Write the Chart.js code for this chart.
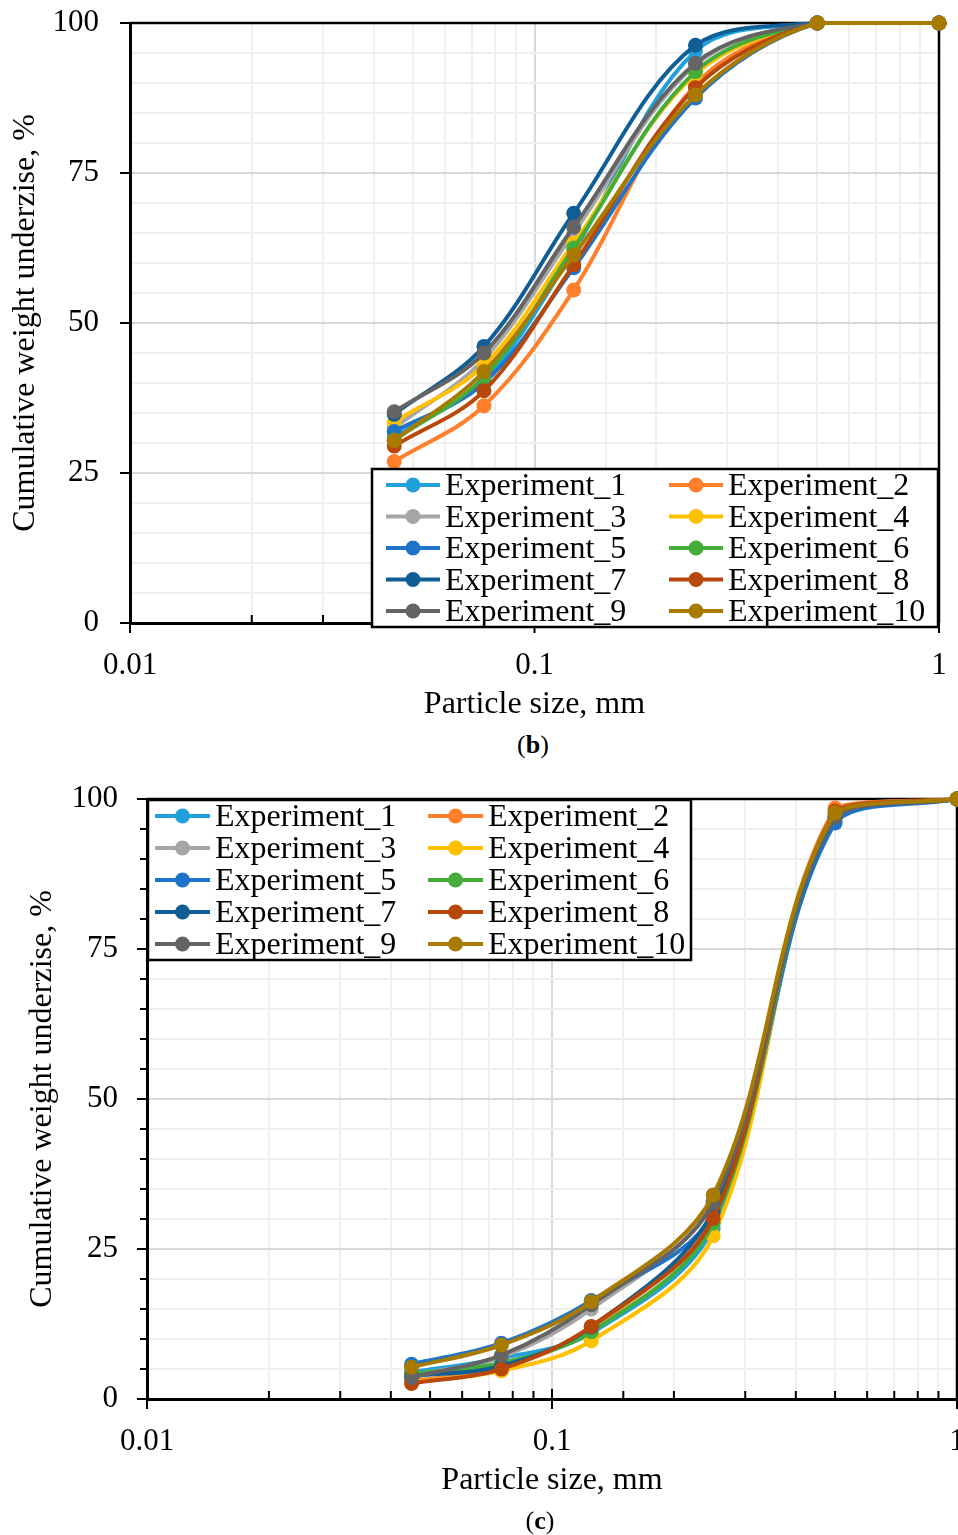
<!DOCTYPE html>
<html>
<head>
<meta charset="utf-8">
<script src="https://cdn.jsdelivr.net/npm/chart.js@4.4.1/dist/chart.umd.min.js"></script>
<style>
  html, body { margin: 0; padding: 0; background: #fff; width: 958px; height: 1535px; overflow: hidden; }
  .wrap { position: absolute; left: 0; width: 958px; overflow: hidden; }
  canvas { display: block; }
  .cap { position: absolute; font-family: "Liberation Serif", serif; font-size: 26px; color: #000;
         transform: translate(-50%, -50%); white-space: nowrap; }
</style>
</head>
<body>
<div class="wrap" style="top:0;height:730px"><canvas id="chartB" width="958" height="730"></canvas></div>
<div class="cap" style="left:533px;top:745px">(<b>b</b>)</div>
<div class="wrap" style="top:770px;height:750px"><canvas id="chartC" width="980" height="750"></canvas></div>
<div class="cap" style="left:540px;top:1521px">(<b>c</b>)</div>

<script>
// Sieve sizes (mm) and axis labels
const sizes = [0.045, 0.075, 0.125, 0.25, 0.5, 1];
const xTickValues = [0.01, 0.1, 1];
const xTickLabels = ['0.01', '0.1', '1'];
const yTickValues = [0, 25, 50, 75, 100];

const seriesNames = ['Experiment_1', 'Experiment_2', 'Experiment_3', 'Experiment_4', 'Experiment_5',
                     'Experiment_6', 'Experiment_7', 'Experiment_8', 'Experiment_9', 'Experiment_10'];
const seriesColors = ['#22a0dc', '#ff7f2a', '#a6a6a6', '#ffc000', '#1f74c8',
                      '#44ad3a', '#0f5f96', '#b8480a', '#646464', '#a87a00'];

// (b) cumulative weight undersize, %
const bExp1  = [31.0, 40.5, 62.0, 95.3, 100, 100];
const bExp2  = [26.9, 36.2, 55.5, 89.7, 100, 100];
const bExp3  = [32.5, 44.0, 65.0, 93.0, 100, 100];
const bExp4  = [33.5, 43.0, 63.3, 91.5, 100, 100];
const bExp5  = [31.9, 40.0, 59.2, 87.5, 100, 100];
const bExp6  = [30.5, 41.0, 62.5, 91.9, 100, 100];
const bExp7  = [34.8, 46.1, 68.3, 96.3, 100, 100];
const bExp8  = [29.5, 38.7, 59.7, 89.2, 100, 100];
const bExp9  = [35.2, 45.0, 66.0, 93.3, 100, 100];
const bExp10 = [30.4, 41.9, 61.3, 88.0, 100, 100];

// (c) cumulative weight undersize, %
const cExp1  = [4.5, 6.8, 11.0, 28.5, 96.5, 100];
const cExp2  = [3.0, 5.2, 11.8, 30.5, 98.5, 100];
const cExp3  = [4.0, 7.0, 15.0, 33.0, 97.0, 100];
const cExp4  = [2.8, 4.7, 9.7, 27.2, 97.5, 100];
const cExp5  = [5.8, 9.3, 16.4, 31.0, 96.0, 100];
const cExp6  = [4.2, 6.0, 11.2, 29.3, 97.5, 100];
const cExp7  = [3.8, 5.5, 12.0, 31.5, 97.0, 100];
const cExp8  = [2.6, 5.0, 12.1, 30.1, 98.0, 100];
const cExp9  = [3.6, 7.3, 15.7, 32.7, 97.0, 100];
const cExp10 = [5.3, 9.0, 16.2, 34.0, 97.7, 100];

const seriesB = [bExp1, bExp2, bExp3, bExp4, bExp5, bExp6, bExp7, bExp8, bExp9, bExp10];
const seriesC = [cExp1, cExp2, cExp3, cExp4, cExp5, cExp6, cExp7, cExp8, cExp9, cExp10];

const FONT = '"Liberation Serif", "Times New Roman", serif';

function isDecade(v) {
    const l = Math.log10(v);
    return Math.abs(l - Math.round(l)) < 1e-6;
}

function xLabel(v) {
    const i = xTickValues.findIndex(t => Math.abs(t - v) / t < 1e-6);
    return i >= 0 ? xTickLabels[i] : '';
}

function buildDatasets(series) {
    return series.map((vals, i) => ({
        label: seriesNames[i],
        data: sizes.map((s, j) => ({ x: s, y: vals[j] })),
        borderColor: seriesColors[i],
        backgroundColor: seriesColors[i],
        pointBackgroundColor: seriesColors[i],
        showLine: true,
        clip: false,
        order: series.length - i   // later experiments drawn on top, like Excel
    }));
}

// Plot frame (top/right border) and Excel-like tick marks
const framePlugin = {
    id: 'frame',
    beforeDatasetsDraw(chart, args, opts) {
        const { ctx, chartArea: a, scales: { x, y } } = chart;
        ctx.save();
        ctx.strokeStyle = '#000';
        ctx.lineWidth = 2.5;
        ctx.beginPath();
        ctx.moveTo(a.left, a.top);
        ctx.lineTo(a.right, a.top);
        ctx.lineTo(a.right, a.bottom);
        ctx.stroke();
        ctx.lineWidth = 2;
        x.ticks.forEach(t => {
            const px = x.getPixelForValue(t.value);
            const major = isDecade(t.value);
            ctx.beginPath();
            ctx.moveTo(px, a.bottom + (major ? 10 : 0));
            ctx.lineTo(px, a.bottom - (major ? 10 : 8));
            ctx.stroke();
        });
        y.ticks.forEach(t => {
            const py = y.getPixelForValue(t.value);
            const major = yTickValues.includes(t.value);
            if (!major && !opts.yMinor) return;
            ctx.beginPath();
            ctx.moveTo(a.left - (major ? 10 : 7), py);
            ctx.lineTo(a.left, py);
            ctx.stroke();
        });
        ctx.restore();
    }
};

// Boxed two-column legend placed inside the plot
const legendPlugin = {
    id: 'expLegend',
    afterDatasetsDraw(chart, args, o) {
        const ctx = chart.ctx;
        ctx.save();
        ctx.fillStyle = '#fff';
        ctx.fillRect(o.left, o.top, o.width, o.height);
        ctx.strokeStyle = '#000';
        ctx.lineWidth = 2.5;
        ctx.strokeRect(o.left, o.top, o.width, o.height);
        chart.data.datasets.forEach((ds, i) => {
            const col = i % 2, row = Math.floor(i / 2);
            const cy = o.rowY + row * o.rowStep;
            const lx = o.colX[col];
            ctx.strokeStyle = ds.borderColor;
            ctx.lineWidth = 4;
            ctx.beginPath();
            ctx.moveTo(lx, cy);
            ctx.lineTo(lx + o.lineLen, cy);
            ctx.stroke();
            ctx.fillStyle = ds.borderColor;
            ctx.beginPath();
            ctx.arc(lx + o.lineLen / 2, cy, 7.5, 0, Math.PI * 2);
            ctx.fill();
            ctx.fillStyle = '#000';
            ctx.font = '32px ' + FONT;
            ctx.textBaseline = 'alphabetic';
            ctx.fillText(ds.label, lx + o.lineLen + 5, cy + 10);
        });
        ctx.restore();
    }
};

function makeChart(id, series, cfg) {
    new Chart(document.getElementById(id).getContext('2d'), {
        type: 'scatter',
        data: { datasets: buildDatasets(series) },
        plugins: [framePlugin, legendPlugin],
        options: {
            responsive: false,
            animation: false,
            layout: { padding: cfg.padding, autoPadding: false },
            elements: {
                line: { tension: 0.35, borderWidth: 4, capBezierPoints: true },
                point: { radius: 7.5, borderWidth: 0 }
            },
            plugins: {
                legend: { display: false },
                tooltip: { enabled: false },
                frame: { yMinor: cfg.yMinor },
                expLegend: cfg.legend
            },
            scales: {
                x: {
                    type: 'logarithmic',
                    min: 0.01,
                    max: 1,
                    afterFit: s => { s.height = cfg.xHeight; },
                    border: { color: '#000', width: 3 },
                    grid: {
                        drawTicks: true,
                        tickLength: 24,
                        tickColor: 'rgba(0,0,0,0)',
                        color: ctx => isDecade(ctx.tick.value) ? '#d9d9d9' : '#efefef',
                        lineWidth: 2
                    },
                    ticks: {
                        autoSkip: false, maxRotation: 0, padding: 0, color: '#000',
                        font: { family: FONT, size: 31 },
                        callback: v => xLabel(v)
                    },
                    title: {
                        display: true, text: 'Particle size, mm', color: '#000',
                        font: { family: FONT, size: 32 },
                        padding: { top: 0, bottom: cfg.xTitlePad }
                    }
                },
                y: {
                    min: 0,
                    max: 100,
                    afterFit: s => { s.width = cfg.yWidth; },
                    border: { color: '#000', width: 3 },
                    grid: {
                        drawTicks: true,
                        tickLength: cfg.yTickPad,
                        tickColor: 'rgba(0,0,0,0)',
                        color: ctx => yTickValues.includes(ctx.tick.value) ? '#d9d9d9' : '#efefef',
                        lineWidth: 2
                    },
                    ticks: {
                        stepSize: 5, autoSkip: false, padding: 0, color: '#000',
                        font: { family: FONT, size: 31 },
                        callback: v => yTickValues.includes(v) ? String(v) : ''
                    },
                    title: {
                        display: true, text: 'Cumulative weight underzise, %', color: '#000',
                        font: { family: FONT, size: 32 },
                        padding: { top: cfg.yTitlePad, bottom: 0 }
                    }
                }
            }
        }
    });
}

makeChart('chartB', seriesB, {
    padding: { top: 23, right: 19, bottom: 0, left: 0 },
    xHeight: 107, xTitlePad: 6, yWidth: 130, yTickPad: 31, yTitlePad: 6, yMinor: false,
    legend: { left: 372, top: 469, width: 566, height: 158, rowY: 485, rowStep: 31.5,
              colX: [386, 669], lineLen: 54 }
});

makeChart('chartC', seriesC, {
    padding: { top: 29, right: 23, bottom: 0, left: 0 },
    xHeight: 121, xTitlePad: 20, yWidth: 147, yTickPad: 29, yTitlePad: 23, yMinor: true,
    legend: { left: 148, top: 30, width: 543, height: 160, rowY: 46, rowStep: 32,
              colX: [155, 428], lineLen: 55 }
});
</script>
</body>
</html>
